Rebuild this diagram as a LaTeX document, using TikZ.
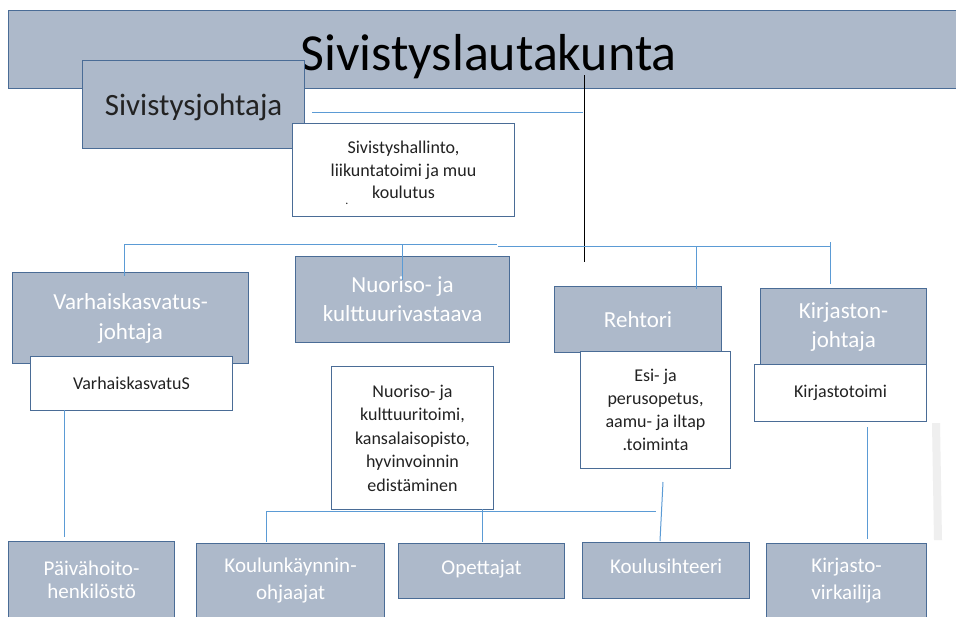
\documentclass[tikz,border=0pt]{standalone}
\usepackage{fontspec}
\setmainfont{Carlito}
\definecolor{boxfill}{HTML}{ADB9CA}
\definecolor{boxline}{HTML}{4A6C96}
\definecolor{connblue}{HTML}{5B9BD5}
\definecolor{ghostgrey}{HTML}{EFEFEF}
\definecolor{inktext}{HTML}{222222}
\begin{document}
\begin{tikzpicture}[x=1pt,y=-1pt,
  greybox/.style={draw=boxline, line width=1.2pt, fill=boxfill, text=white, align=center, inner sep=0pt, anchor=north west, font=\fontsize{23}{29}\selectfont},
  lowbox/.style={greybox, font=\fontsize{21}{27}\selectfont},
  whitebox/.style={draw=boxline, line width=1pt, fill=white, text=inktext, align=center, inner sep=0pt, anchor=north west, font=\fontsize{18}{23}\selectfont},
  connector/.style={draw=connblue, line width=1pt},
  blackline/.style={draw=black, line width=1pt}]
\useasboundingbox (0,0) rectangle (956,616);
\clip (0,0) rectangle (956,616);
\fill[white] (0,0) rectangle (956,616);

% faint strip at right
\fill[ghostgrey] (932,423) -- (940,423) -- (942,540) -- (934,540) -- cycle;

% top
\node[greybox, text=black, font=\fontsize{52}{60}\selectfont, minimum width=960pt, minimum height=78pt, text height=42pt, text depth=0pt] (title) at (8,10) {Sivistyslautakunta};
\coordinate (bt) at (584,75);
\coordinate (bb) at (584,262);
\draw[blackline] (bt) -- (bb);
\node[greybox, text=inktext, font=\fontsize{31}{36}\selectfont, minimum width=222pt, minimum height=88pt, text height=22pt, text depth=0pt] (sivj) at (82,60) {Sivistysjohtaja};
\coordinate (sl) at (312,112);
\coordinate (sr) at (583,112);
\draw[connector] (sl) -- (sr);
\node[whitebox, font=\fontsize{18}{22.5}\selectfont, minimum width=222pt, minimum height=93pt] (sivh) at (292,123) {Sivistyshallinto,\\liikuntatoimi ja muu\\koulutus};
\node[font=\fontsize{12}{12}\selectfont, inner sep=0pt, text=inktext] (dot) at (347,204) {.};

% middle row
\node[greybox, font=\fontsize{23}{30}\selectfont, minimum width=236pt, minimum height=91pt] (varj) at (12,272) {Varhaiskasvatus-\\johtaja};
\node[greybox, minimum width=214pt, minimum height=86pt] (nuor) at (295,256) {Nuoriso- ja\\kulttuurivastaava};
\node[greybox, minimum width=167pt, minimum height=66pt] (reht) at (554,286) {Rehtori};
\node[greybox, font=\fontsize{23}{29}\selectfont, minimum width=166pt, minimum height=76pt] (kirj) at (760,288) {Kirjaston-\\johtaja};

% level lines
\coordinate (h1l) at (124,244);
\coordinate (h1r) at (497,244);
\coordinate (h2l) at (498,246);
\coordinate (h2r) at (830,246);
\draw[connector] (h1l) -- (h1r);
\draw[connector] (h2l) -- (h2r);
\draw[connector] (830,242) -- (830,284);
\coordinate (d1) at (124,276);
\coordinate (d2t) at (402,244);
\coordinate (d2) at (402,280);
\coordinate (d3t) at (696,246);
\coordinate (d3) at (696,289);
\draw[connector] (h1l) -- (d1);
\draw[connector] (d2t) -- (d2);
\draw[connector] (d3t) -- (d3);

% white boxes
\node[whitebox, minimum width=202pt, minimum height=54pt] (varh) at (30,356) {VarhaiskasvatuS};
\node[whitebox, font=\fontsize{18}{23.5}\selectfont, minimum width=162pt, minimum height=143pt] (nuot) at (331,366) {Nuoriso- ja\\kulttuuritoimi,\\kansalaisopisto,\\hyvinvoinnin\\edistäminen};
\node[whitebox, minimum width=150pt, minimum height=117pt] (esi) at (580,351) {Esi- ja\\perusopetus,\\aamu- ja iltap\\.toiminta};
\node[whitebox, minimum width=172pt, minimum height=57pt] (kirt) at (754,364) {Kirjastotoimi};

% bottom row
\node[lowbox, minimum width=166pt, minimum height=76pt, font=\fontsize{21}{23}\selectfont] (paiv) at (8,541) {Päivähoito-\\henkilöstö};
\node[lowbox, minimum width=188pt, minimum height=74pt] (koul) at (196,543) {Koulunkäynnin-\\ohjaajat};
\node[lowbox, minimum width=166pt, minimum height=55pt, text height=14pt, text depth=8pt] (opet) at (398,543) {Opettajat};
\node[lowbox, minimum width=167pt, minimum height=56pt, text height=14pt, text depth=9pt] (ksih) at (582,542) {Koulusihteeri};
\node[lowbox, minimum width=160pt, minimum height=74pt] (kvir) at (766,543) {Kirjasto-\\virkailija};

% lower connectors
\coordinate (v1t) at (64,410);
\coordinate (v1b) at (64,537);
\draw[connector] (v1t) -- (v1b);
\coordinate (k1t) at (867,427);
\coordinate (k1b) at (867,539);
\draw[connector] (k1t) -- (k1b);
\coordinate (bl) at (266,511);
\coordinate (br) at (656,511);
\draw[connector] (bl) -- (br);
\draw[connector] (bl) -- (266,542);
\draw[connector] (482,509) -- (482,542);
\coordinate (st) at (663,482);
\coordinate (sb) at (660,541);
\draw[connector] (st) -- (sb);
\end{tikzpicture}
\end{document}
